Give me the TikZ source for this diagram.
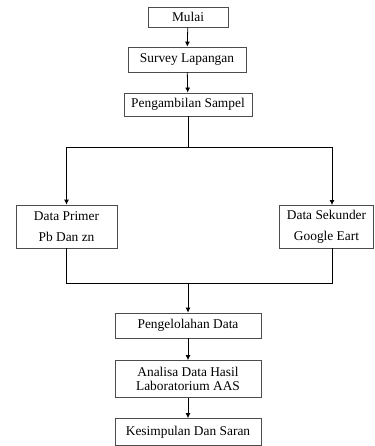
\documentclass[tikz,border=0pt]{standalone}
\usepackage{fontspec}
\setmainfont{Liberation Serif}
\usetikzlibrary{arrows.meta}
\begin{document}
\begin{tikzpicture}[x=1pt,y=-1pt,
  box/.style={draw=black!70,line width=0.8pt,fill=white,inner sep=0pt,align=center,
    font=\fontsize{13.4}{14.5}\selectfont},
  twoline/.style={box,font=\fontsize{13.4}{21}\selectfont},
  conn/.style={line width=0.8pt,black},
  arr/.style={conn,-{Latex[length=5pt,width=5pt]}}]
\useasboundingbox (0,0) rectangle (374,446);
\node[box,minimum width=80pt,minimum height=20pt] (mulai) at (188,17) {Mulai};
\node[box,minimum width=118pt,minimum height=25pt] (survey) at (187,59.5) {Survey Lapangan};
\node[box,minimum width=128pt,minimum height=23pt] (samp) at (188,104.5) {Pengambilan Sampel};
\node[twoline,minimum width=101pt,minimum height=43pt] (prim) at (66.5,226.5) {Data Primer\\Pb Dan zn};
\node[twoline,minimum width=94pt,minimum height=43pt] (sek) at (326.5,226.5) {Data Sekunder\\Google Eart};
\node[box,minimum width=146pt,minimum height=25pt] (olah) at (188,325.5) {Pengelolahan Data};
\node[box,minimum width=146pt,minimum height=37pt] (anal) at (188,379) {Analisa Data Hasil\\Laboratorium AAS};
\node[box,minimum width=146pt,minimum height=27pt] (kes) at (188,432) {Kesimpulan Dan Saran};
\coordinate (split) at (188,147);
\coordinate (sekin) at (332,205);
\coordinate (sekout) at (332,248);
\coordinate (join) at (188,283);
\draw[arr] (mulai) -- (survey);
\draw[arr] (survey) -- (samp);
\draw[conn] (samp.south) -- (split);
\draw[arr] (split) -| (prim.north);
\draw[arr] (split) -| (sekin);
\draw[conn] (prim.south) |- (join);
\draw[conn] (sekout) |- (join);
\draw[arr] (join) -- (olah.north);
\draw[arr] (olah) -- (anal);
\draw[arr] (anal) -- (kes);
\end{tikzpicture}
\end{document}
